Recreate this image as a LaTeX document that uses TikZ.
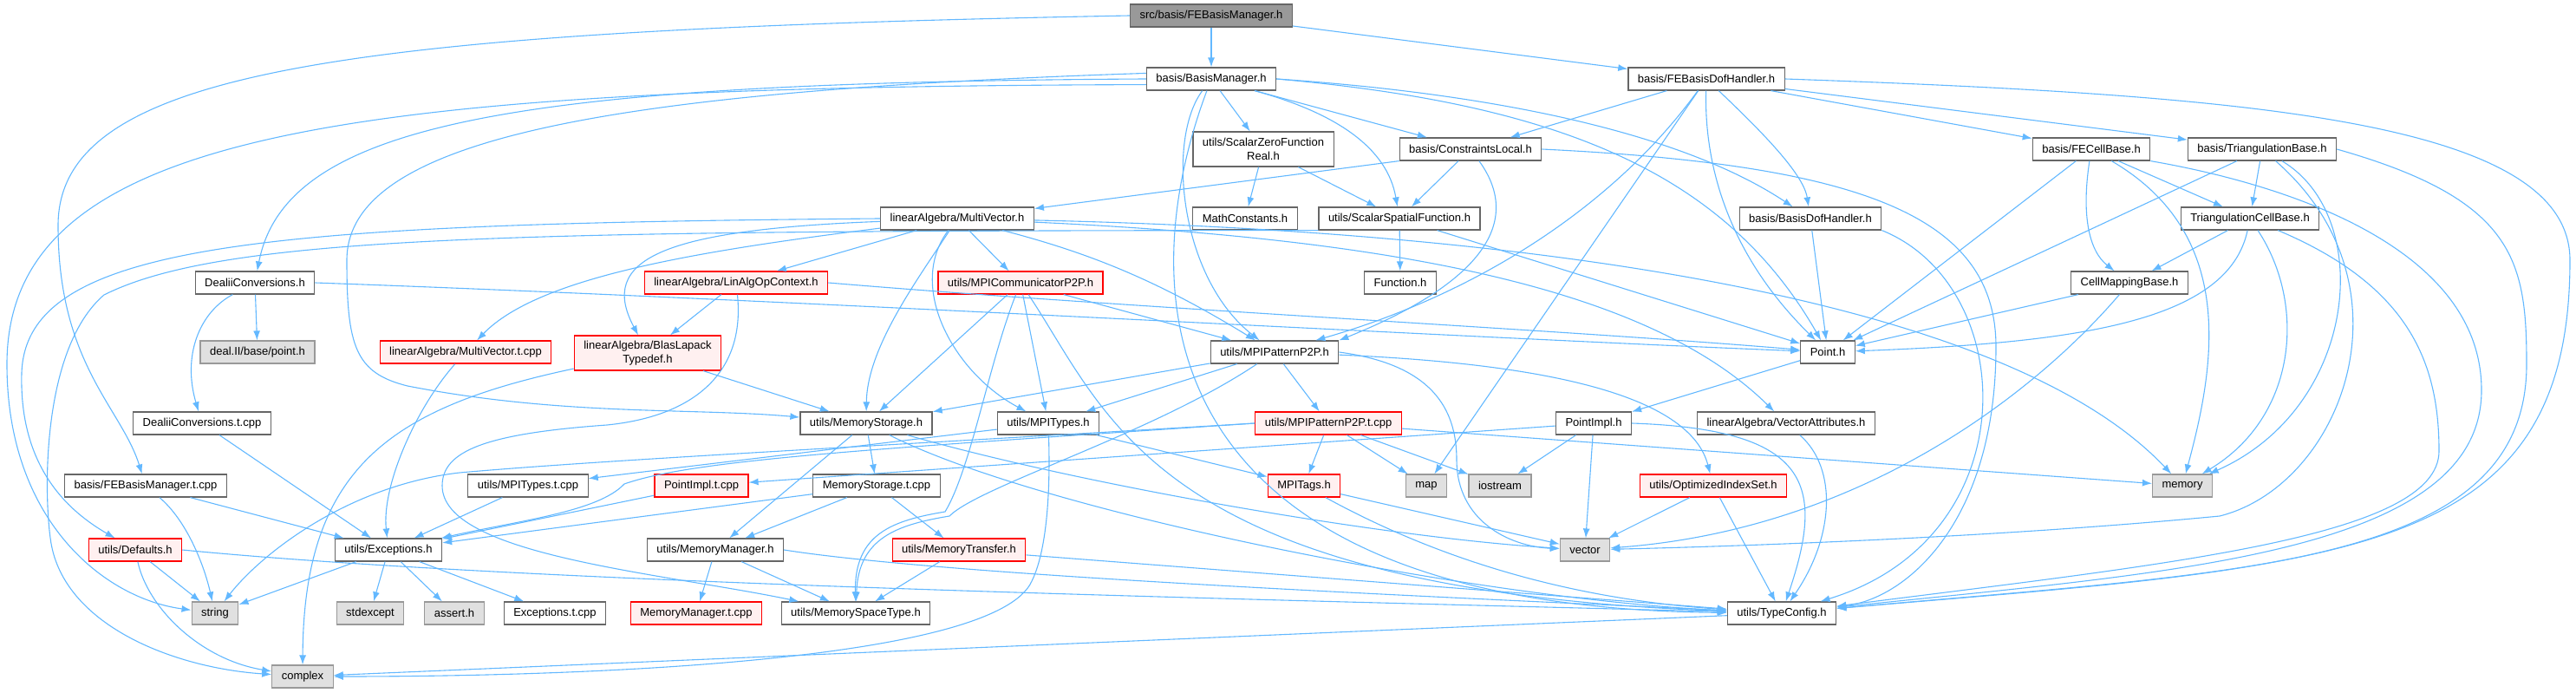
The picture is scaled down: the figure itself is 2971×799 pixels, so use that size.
\documentclass[tikz,border=0pt]{standalone}
\usepackage{fontspec}
\setmainfont{Liberation Sans}
\usepackage{xcolor}
\usepackage{tikz}
\usetikzlibrary{arrows.meta}
\definecolor{edgeblue}{HTML}{63B8FF}
\definecolor{boxline}{HTML}{666666}
\definecolor{sysline}{HTML}{999999}
\definecolor{sysfill}{HTML}{E0E0E0}
\definecolor{redfill}{HTML}{FFF0F0}
\definecolor{rootfill}{HTML}{999999}

\begin{document}
\begin{tikzpicture}[
  x=1pt, y=-1pt,
  box/.style={draw=boxline,fill=white,line width=1.2pt,minimum height=26pt,inner xsep=11pt,inner ysep=2pt,align=center,font=\fontsize{13}{15.5}\selectfont},
  sysbox/.style={box,draw=sysline,fill=sysfill},
  redbox/.style={box,draw=red,fill=redfill},
  rootbox/.style={box,fill=rootfill},
  arrow/.style={draw=edgeblue,line width=1.1pt,-{Latex[length=11pt,width=8pt]}}
]
\useasboundingbox (0,0) rectangle (2971,799);

\node[rootbox] (root) at (1397,18) {src/basis/FEBasisManager.h};
\node[box] (bm) at (1397,91) {basis/BasisManager.h};
\node[box] (febdh) at (1968,91) {basis/FEBasisDofHandler.h};
\node[box,minimum height=40pt] (szf) at (1457,172) {utils/ScalarZeroFunction\\Real.h};
\node[box] (cl) at (1696,172) {basis/ConstraintsLocal.h};
\node[box] (fecb) at (2412,172) {basis/FECellBase.h};
\node[box] (tb) at (2609,172) {basis/TriangulationBase.h};
\node[box] (mv) at (1104,252) {linearAlgebra/MultiVector.h};
\node[box] (mc) at (1436,252) {MathConstants.h};
\node[box] (ssf) at (1614,252) {utils/ScalarSpatialFunction.h};
\node[box] (bdh) at (2088,252) {basis/BasisDofHandler.h};
\node[box] (tcb) at (2595,252) {TriangulationCellBase.h};
\node[box] (dc) at (294,326) {DealiiConversions.h};
\node[redbox] (laoc) at (849,326) {linearAlgebra/LinAlgOpContext.h};
\node[redbox] (mpic) at (1177,326) {utils/MPICommunicatorP2P.h};
\node[box] (fn) at (1615,326) {Function.h};
\node[box] (cmb) at (2456,326) {CellMappingBase.h};
\node[sysbox] (dpt) at (297,406) {deal.II/base/point.h};
\node[redbox] (mvt) at (537,406) {linearAlgebra/MultiVector.t.cpp};
\node[redbox,minimum height=40pt] (blt) at (747,407) {linearAlgebra/BlasLapack\\Typedef.h};
\node[box] (mpip) at (1470,406) {utils/MPIPatternP2P.h};
\node[box] (pt) at (2108,406) {Point.h};
\node[box] (dct) at (233,488) {DealiiConversions.t.cpp};
\node[box] (ms) at (999,488) {utils/MemoryStorage.h};
\node[box] (mpit) at (1209,488) {utils/MPITypes.h};
\node[redbox] (mpipt) at (1532,488) {utils/MPIPatternP2P.t.cpp};
\node[box] (pim) at (1838,488) {PointImpl.h};
\node[box] (va) at (2060,488) {linearAlgebra/VectorAttributes.h};
\node[box] (febmt) at (168,560) {basis/FEBasisManager.t.cpp};
\node[box] (mptc) at (609,560) {utils/MPITypes.t.cpp};
\node[redbox] (pimt) at (809,560) {PointImpl.t.cpp};
\node[box] (mst) at (1011,560) {MemoryStorage.t.cpp};
\node[redbox] (tags) at (1504,560) {MPITags.h};
\node[sysbox] (map) at (1645,560) {map};
\node[sysbox] (ios) at (1730,560) {iostream};
\node[redbox] (ois) at (1976,560) {utils/OptimizedIndexSet.h};
\node[sysbox] (mem) at (2517,560) {memory};
\node[redbox] (dft) at (156,634) {utils/Defaults.h};
\node[box] (exc) at (448,634) {utils/Exceptions.h};
\node[box] (mm) at (825,634) {utils/MemoryManager.h};
\node[redbox] (mtr) at (1106,634) {utils/MemoryTransfer.h};
\node[sysbox] (vec) at (1828,634) {vector};
\node[sysbox] (str) at (248,707) {string};
\node[sysbox] (stde) at (427,707) {stdexcept};
\node[sysbox] (asrt) at (524,707) {assert.h};
\node[box] (exct) at (640,707) {Exceptions.t.cpp};
\node[redbox] (mmt) at (803,707) {MemoryManager.t.cpp};
\node[box] (mspc) at (987,707) {utils/MemorySpaceType.h};
\node[box] (tc) at (2055,707) {utils/TypeConfig.h};
\node[sysbox] (cplx) at (349,780) {complex};

\draw[arrow] (root) -- (bm);
\draw[arrow] (root) -- (febdh);
\draw[arrow] (root.west) .. controls (400,35) and (67,80) .. (67,260) .. controls (67,420) and (140,470) .. (febmt);

\draw[arrow] (bm) -- (szf);
\draw[arrow] (bm) -- (cl);
\draw[arrow] (bm) .. controls (1540,130) and (1600,170) .. (ssf);
\draw[arrow] (bm) .. controls (1345,160) and (1360,320) .. (mpip);
\draw[arrow] (bm) .. controls (1300,350) and (1330,700) .. (tc);
\draw[arrow] (bm.175) .. controls (700,105) and (400,160) .. (400,300) .. controls (400,400) and (410,430) .. (470,445) .. controls (650,480) and (800,470) .. (ms);
\draw[arrow] (bm.west) .. controls (600,95) and (330,140) .. (dc);
\draw[arrow] (bm.185) .. controls (400,100) and (8,150) .. (8,420) .. controls (8,600) and (120,690) .. (str);
\draw[arrow] (bm.east) .. controls (1750,110) and (1950,160) .. (bdh);
\draw[arrow] (bm.east) .. controls (1800,120) and (1990,200) .. (pt);

\draw[arrow] (febdh) -- (cl);
\draw[arrow] (febdh) .. controls (1860,240) and (1700,340) .. (mpip);
\draw[arrow] (febdh) -- (map);
\draw[arrow] (febdh) .. controls (2030,150) and (2080,200) .. (bdh);
\draw[arrow] (febdh) .. controls (1965,200) and (2000,300) .. (pt);
\draw[arrow] (febdh) -- (fecb);
\draw[arrow] (febdh) -- (tb);
\draw[arrow] (febdh.east) .. controls (2600,110) and (2964,140) .. (2964,300) .. controls (2964,650) and (2700,650) .. (tc);

\draw[arrow] (cl.south west) -- (mv);
\draw[arrow] (cl) -- (ssf);
\draw[arrow] (cl) .. controls (1760,260) and (1700,330) .. (mpip.north east);
\draw[arrow] (cl.east) .. controls (2150,190) and (2302,250) .. (2302,400) .. controls (2302,600) and (2200,690) .. (tc);

\draw[arrow] (szf) -- (mc);
\draw[arrow] (szf) -- (ssf);

\draw[arrow] (ssf) -- (fn);
\draw[arrow] (ssf) -- (pt);
\draw[arrow] (ssf.south west) .. controls (600,266) and (260,270) .. (120,340) .. controls (50,400) and (50,560) .. (58,620) .. controls (70,720) and (200,770) .. (cplx);

\draw[arrow] (mv) -- (laoc);
\draw[arrow] (mv) .. controls (800,290) and (620,320) .. (mvt);
\draw[arrow] (mv) .. controls (760,265) and (690,300) .. (blt);
\draw[arrow] (mv) .. controls (1060,320) and (1000,400) .. (ms);
\draw[arrow] (mv) .. controls (1045,330) and (1100,430) .. (mpit);
\draw[arrow] (mv) -- (mpic);
\draw[arrow] (mv) .. controls (1250,290) and (1330,320) .. (mpip);
\draw[arrow] (mv.west) .. controls (300,258) and (30,280) .. (25,430) .. controls (22,540) and (80,590) .. (dft);
\draw[arrow] (mv) .. controls (1600,275) and (1900,330) .. (va);
\draw[arrow] (mv) .. controls (1700,265) and (2300,330) .. (mem);

\draw[arrow] (mpic) -- (ms);
\draw[arrow] (mpic) -- (mpit);
\draw[arrow] (mpic) -- (mpip);
\draw[arrow] (mpic) .. controls (1140,420) and (1120,540) .. (1090,590) .. controls (1030,600) and (985,615) .. (mspc);
\draw[arrow] (mpic) .. controls (1280,480) and (1330,680) .. (tc);

\draw[arrow] (mpip) -- (ms);
\draw[arrow] (mpip) -- (mpit);
\draw[arrow] (mpip) -- (mpipt);
\draw[arrow] (mpip) .. controls (1330,500) and (1130,560) .. (1095,595) .. controls (1035,605) and (990,620) .. (mspc);
\draw[arrow] (mpip) .. controls (1800,420) and (1950,460) .. (ois);
\draw[arrow] (mpip.east) .. controls (1650,420) and (1680,470) .. (1680,530) .. controls (1680,600) and (1740,630) .. (vec);

\draw[arrow] (mpit) -- (mptc);
\draw[arrow] (mpit) -- (tags);
\draw[arrow] (mpit) .. controls (1212,580) and (1205,640) .. (1190,670) .. controls (1150,760) and (700,780) .. (cplx);

\draw[arrow] (mpipt) -- (tags);
\draw[arrow] (mpipt) -- (map);
\draw[arrow] (mpipt) -- (ios);
\draw[arrow] (mpipt.west) .. controls (1000,515) and (700,530) .. (530,545) .. controls (400,560) and (300,640) .. (str);
\draw[arrow] (mpipt.west) .. controls (1000,518) and (800,530) .. (720,558) .. controls (690,590) and (600,600) .. (exc);
\draw[arrow] (mpipt) -- (mem);

\draw[arrow] (pim) -- (pimt);
\draw[arrow] (pim) -- (ios);
\draw[arrow] (pim) -- (vec);
\draw[arrow] (pim.east) .. controls (2090,495) and (2105,560) .. (tc);
\draw[arrow] (pt) -- (pim);

\draw[arrow] (va) .. controls (2120,540) and (2115,620) .. (tc);
\draw[arrow] (ois) -- (vec);
\draw[arrow] (ois) -- (tc);
\draw[arrow] (tags) -- (vec);
\draw[arrow] (tags) .. controls (1650,640) and (1800,690) .. (tc);

\draw[arrow] (ms) -- (mst);
\draw[arrow] (ms) -- (mm);
\draw[arrow] (ms) .. controls (1250,560) and (1600,620) .. (vec);
\draw[arrow] (ms) .. controls (1200,590) and (1700,690) .. (tc);

\draw[arrow] (mst) -- (exc);
\draw[arrow] (mst) -- (mm);
\draw[arrow] (mst) -- (mtr);
\draw[arrow] (mtr) -- (mspc);
\draw[arrow] (mtr) -- (tc);
\draw[arrow] (mm) -- (mmt);
\draw[arrow] (mm) -- (mspc);
\draw[arrow] (mm.east) .. controls (1100,665) and (1700,690) .. (tc);

\draw[arrow] (exc) -- (str);
\draw[arrow] (exc) -- (stde);
\draw[arrow] (exc) -- (asrt);
\draw[arrow] (exc) -- (exct);

\draw[arrow] (dft) -- (str);
\draw[arrow] (dft) .. controls (170,700) and (230,760) .. (cplx);
\draw[arrow] (dft.east) .. controls (600,672) and (1400,690) .. (tc);
\draw[arrow] (tc) -- (cplx);

\draw[arrow] (febmt) -- (exc);
\draw[arrow] (febmt) .. controls (215,600) and (235,650) .. (str);

\draw[arrow] (dc) -- (dpt);
\draw[arrow] (dc) .. controls (230,360) and (210,410) .. (dct);
\draw[arrow] (dc.east) .. controls (900,345) and (1700,390) .. (pt);
\draw[arrow] (dct) -- (exc);
\draw[arrow] (mvt) .. controls (480,470) and (440,560) .. (exc);
\draw[arrow] (mptc) -- (exc);
\draw[arrow] (pimt) -- (exc);

\draw[arrow] (blt) .. controls (450,470) and (350,540) .. (cplx);
\draw[arrow] (blt) -- (ms);
\draw[arrow] (laoc) -- (blt);
\draw[arrow] (laoc) .. controls (860,430) and (800,480) .. (700,490) .. controls (560,500) and (510,520) .. (510,560) .. controls (510,640) and (760,660) .. (mspc);
\draw[arrow] (laoc.east) .. controls (1300,355) and (1800,380) .. (pt);

\draw[arrow] (bdh) -- (pt);
\draw[arrow] (bdh.south east) .. controls (2330,330) and (2340,620) .. (tc);

\draw[arrow] (fecb) -- (pt);
\draw[arrow] (fecb) .. controls (2400,250) and (2410,290) .. (cmb);
\draw[arrow] (fecb) -- (tcb);
\draw[arrow] (fecb) .. controls (2580,270) and (2555,420) .. (mem);
\draw[arrow] (fecb.south east) .. controls (2650,215) and (2862,290) .. (2862,450) .. controls (2862,640) and (2500,660) .. (tc);

\draw[arrow] (tb) -- (pt);
\draw[arrow] (tb) -- (tcb);
\draw[arrow] (tb) .. controls (2740,250) and (2720,470) .. (mem);
\draw[arrow] (tb) .. controls (2790,330) and (2700,560) .. (2560,595) .. controls (2300,620) and (2000,630) .. (vec);
\draw[arrow] (tb.east) .. controls (2900,230) and (2914,300) .. (2914,420) .. controls (2914,650) and (2600,660) .. (tc);

\draw[arrow] (tcb) -- (cmb);
\draw[arrow] (tcb) .. controls (2570,370) and (2400,395) .. (pt);
\draw[arrow] (tcb) .. controls (2660,350) and (2650,480) .. (mem);
\draw[arrow] (tcb) .. controls (2780,330) and (2813,420) .. (2813,520) .. controls (2813,620) and (2500,650) .. (tc);

\draw[arrow] (cmb) -- (pt);
\draw[arrow] (cmb) .. controls (2350,450) and (2150,610) .. (vec);
\end{tikzpicture}
\end{document}
